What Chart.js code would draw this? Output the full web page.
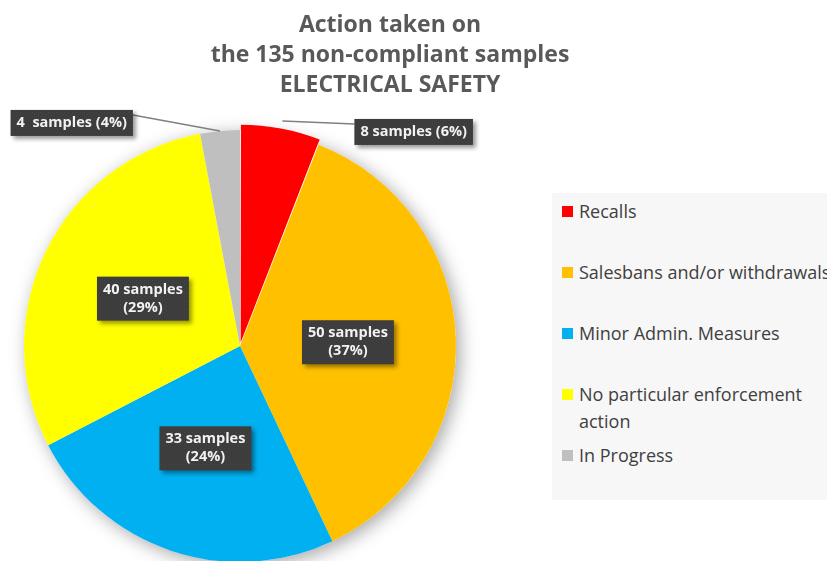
<!DOCTYPE html>
<html>
<head>
<meta charset="utf-8">
<script src="https://cdn.jsdelivr.net/npm/chart.js@4.4.1/dist/chart.umd.min.js"></script>
<style>
  html, body { margin: 0; padding: 0; background: #fff; }
  #wrap { position: relative; width: 827px; height: 561px; overflow: hidden; font-family: "Open Sans", sans-serif; }
  #pie { position: absolute; left: 0; top: 0; }
  #title {
    position: absolute; left: 0; top: 8px; width: 780px; text-align: center;
    font-weight: bold; font-size: 23px; line-height: 30px; color: #595959;
  }
  #legend {
    position: absolute; left: 552px; top: 193px; width: 300px; height: 307px;
    background: #f7f7f7; margin: 0; padding: 5px 0 0 10px; list-style: none; box-sizing: border-box;
  }
  #legend li { height: 61px; font-size: 18px; line-height: 27px; color: #404040; display: flex; align-items: flex-start; }
  #legend .box { width: 11px; height: 11px; margin: 8px 6px 0 0; flex: none; }
  #legend .txt { width: 262px; }
</style>
</head>
<body>
<div id="wrap">
  <canvas id="pie" width="827" height="561"></canvas>
  <div id="title">Action taken on<br>the 135 non-compliant samples<br>ELECTRICAL SAFETY</div>
  <ul id="legend"></ul>
</div>
<script>
const categories = ['Recalls', 'Salesbans and/or withdrawals', 'Minor Admin. Measures', 'No particular enforcement action', 'In Progress'];
const samples = [8, 50, 33, 40, 4];
const percents = [6, 37, 24, 29, 4];
const colors = ['#FF0000', '#FFC000', '#00B0F0', '#FFFF00', '#BFBFBF'];
const labelLines = [
    ['8 samples (6%)'],
    ['50 samples', '(37%)'],
    ['33 samples', '(24%)'],
    ['40 samples', '(29%)'],
    ['4  samples (4%)'],
];
// 'in' = box in the middle of the slice, otherwise shift of the box from the slice edge
const labelPlace = [[72, 11], 'in', 'in', 'in', [-87, -8]];

// legend
const legend = document.getElementById('legend');
categories.forEach(function(name, i) {
    const li = document.createElement('li');
    li.innerHTML = '<span class="box" style="background:' + colors[i] + '"></span><span class="txt">' + name + '</span>';
    legend.appendChild(li);
});

// dotted fill of the label boxes
function boxPattern(ctx) {
    const c = document.createElement('canvas');
    c.width = 4; c.height = 4;
    const p = c.getContext('2d');
    p.fillStyle = '#3c3c3c';
    p.fillRect(0, 0, 4, 4);
    p.fillStyle = '#474747';
    p.fillRect(0, 0, 1, 1);
    p.fillRect(2, 2, 1, 1);
    return ctx.createPattern(c, 'repeat');
}

const pieDecor = {
    id: 'pieDecor',
    beforeDatasetsDraw(chart) {
        const arc = chart.getDatasetMeta(0).data[1];
        const ctx = chart.ctx;
        ctx.save();
        ctx.shadowColor = 'rgba(0,0,0,0.35)';
        ctx.shadowBlur = 18;
        ctx.shadowOffsetX = 4;
        ctx.shadowOffsetY = 4;
        ctx.fillStyle = '#fff';
        ctx.beginPath();
        ctx.arc(arc.x, arc.y, arc.outerRadius, 0, Math.PI * 2);
        ctx.fill();
        ctx.restore();
    },
    afterDatasetsDraw(chart) {
        const ctx = chart.ctx;
        const fill = boxPattern(ctx);
        chart.getDatasetMeta(0).data.forEach(function(el, i) {
            const mid = (el.startAngle + el.endAngle) / 2;
            const off = el.options.offset || 0;
            const cx = el.x + Math.cos(mid) * off;
            const cy = el.y + Math.sin(mid) * off;
            const lines = labelLines[i];
            ctx.save();
            ctx.font = 'bold 14.5px "Open Sans"';
            const w = Math.max.apply(null, lines.map(t => ctx.measureText(t).width)) + 12;
            const h = lines.length * 18 + 8;
            let bx, by;
            if (labelPlace[i] === 'in') {
                const px = cx + Math.cos(mid) * el.outerRadius / 2;
                const py = cy + Math.sin(mid) * el.outerRadius / 2;
                bx = px - w / 2;
                by = py - h / 2;
            } else {
                const ax = cx + Math.cos(mid) * el.outerRadius;
                const ay = cy + Math.sin(mid) * el.outerRadius;
                const dx = labelPlace[i][0], dy = labelPlace[i][1];
                bx = dx > 0 ? ax + dx : ax + dx - w;
                by = ay + dy - h / 2;
                ctx.strokeStyle = '#808080';
                ctx.lineWidth = 1.5;
                ctx.beginPath();
                ctx.moveTo(ax, ay);
                ctx.lineTo(dx > 0 ? bx : bx + w, by + 5);
                ctx.stroke();
            }
            ctx.shadowColor = 'rgba(0,0,0,0.4)';
            ctx.shadowBlur = 4;
            ctx.shadowOffsetX = 3;
            ctx.shadowOffsetY = 3;
            ctx.fillStyle = fill;
            ctx.fillRect(bx, by, w, h);
            ctx.shadowColor = 'transparent';
            ctx.fillStyle = '#f2f2f2';
            ctx.textAlign = 'center';
            ctx.textBaseline = 'middle';
            lines.forEach(function(t, k) {
                ctx.fillText(t, bx + w / 2, by + 4 + 9 + k * 18);
            });
            ctx.restore();
        });
    }
};

new Chart(document.getElementById('pie'), {
    type: 'pie',
    data: {
        labels: categories,
        datasets: [{
            data: samples,
            backgroundColor: colors,
            borderWidth: 0,
            offset: [13, 0, 0, 0, 0],
            radius: 216,
            clip: false,
        }]
    },
    options: {
        responsive: false,
        animation: false,
        layout: { padding: { left: 0, right: 347, top: 131, bottom: 0 } },
        plugins: {
            legend: { display: false },
            title: { display: false },
            tooltip: { enabled: false },
        }
    },
    plugins: [pieDecor]
});
</script>
</body>
</html>
